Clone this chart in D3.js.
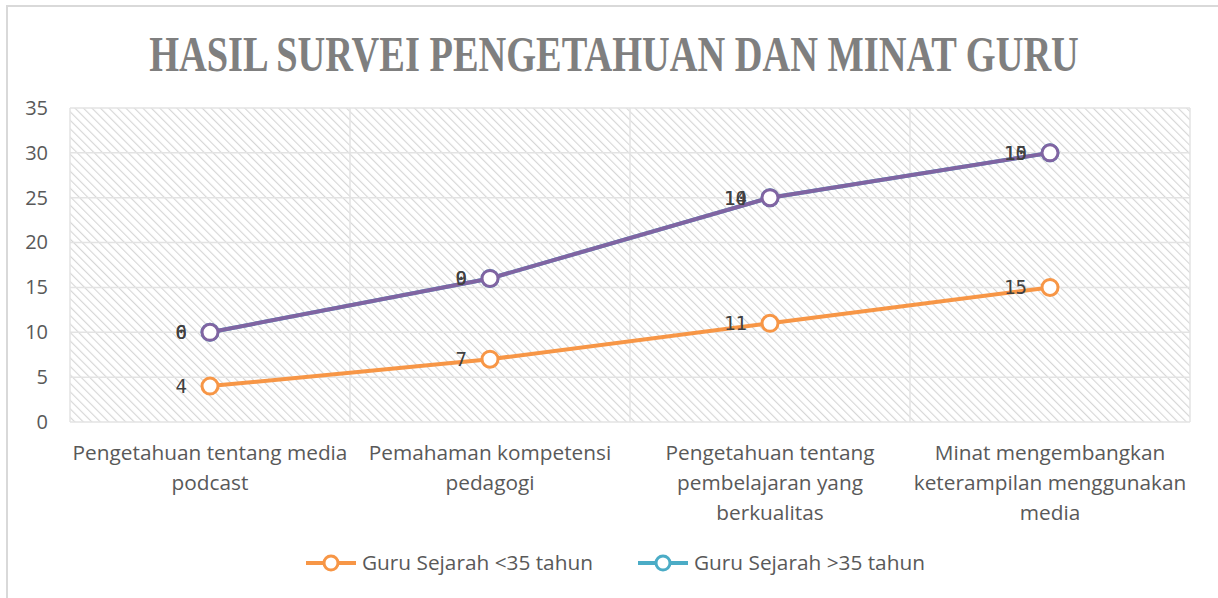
<!DOCTYPE html>
<html lang="id">
<head>
<meta charset="utf-8">
<title>Hasil Survei Pengetahuan dan Minat Guru</title>
<script src="https://d3js.org/d3.v7.min.js"></script>
<style>
  body { margin: 0; background: #fff; }
  svg { display: block; }
  .tick-lbl { font-family: "Open Sans", Lato, sans-serif; font-size: 20.8px; fill: #595959; }
  .axis-lbl { font-family: "Open Sans", Lato, sans-serif; font-size: 20px; fill: #595959; }
  .data-lbl { font-family: "DejaVu Sans Mono", monospace; font-size: 19px; fill: #404040; }
</style>
</head>
<body>
<svg id="chart" width="1218" height="598"></svg>
<script>
// data
const categories = [
  ["Pengetahuan tentang media", "podcast"],
  ["Pemahaman kompetensi", "pedagogi"],
  ["Pengetahuan tentang", "pembelajaran yang", "berkualitas"],
  ["Minat mengembangkan", "keterampilan menggunakan", "media"]
];
const under35 = [4, 7, 11, 15];
const over35 = [6, 9, 14, 15];
// third (unlisted) series, its labels overlap the >35 labels
const extraLabels = [0, 0, 10, 10];
const yTicks = [0, 5, 10, 15, 20, 25, 30, 35];
const seriesNames = ["Guru Sejarah <35 tahun", "Guru Sejarah >35 tahun"];

const orange = "#F79646", teal = "#4BACC6", purple = "#8064A2";

const svg = d3.select("#chart");

// outer chart border
svg.append("rect")
  .attr("x", 7).attr("y", 6).attr("width", 1240).attr("height", 620)
  .attr("fill", "none").attr("stroke", "#d9d9d9").attr("stroke-width", 2);

// hatch pattern
const defs = svg.append("defs");
const pat = defs.append("pattern")
  .attr("id", "hatch").attr("patternUnits", "userSpaceOnUse")
  .attr("width", 6).attr("height", 6)
  .attr("patternTransform", "rotate(-45)");
pat.append("rect").attr("width", 6).attr("height", 6).attr("fill", "#fff");
pat.append("line").attr("x1", 0).attr("y1", 0).attr("x2", 0).attr("y2", 6)
  .attr("stroke", "#d6d6d6").attr("stroke-width", 2.2);

const pLeft = 70, pRight = 1190, pTop = 108, pBottom = 422;

const x = d3.scaleBand().domain(d3.range(categories.length)).range([pLeft, pRight]);
const y = d3.scaleLinear().domain([0, 35]).range([pBottom, pTop]);
const cx = i => x(i) + x.bandwidth() / 2;

// plot background
svg.append("rect")
  .attr("x", pLeft).attr("y", pTop).attr("width", pRight - pLeft).attr("height", pBottom - pTop)
  .attr("fill", "url(#hatch)");

// grid lines
svg.selectAll(".hgrid").data(yTicks).enter().append("line")
  .attr("x1", pLeft).attr("x2", pRight)
  .attr("y1", d => y(d)).attr("y2", d => y(d))
  .attr("stroke", "#e3e3e3").attr("stroke-width", 1.5);
svg.selectAll(".vgrid").data(d3.range(categories.length + 1)).enter().append("line")
  .attr("x1", d => pLeft + d * x.bandwidth()).attr("x2", d => pLeft + d * x.bandwidth())
  .attr("y1", pTop).attr("y2", pBottom)
  .attr("stroke", "#e3e3e3").attr("stroke-width", 1.5);

// y axis labels
const yAxis = svg.append("g").attr("transform", `translate(${pLeft},0)`)
  .call(d3.axisLeft(y).tickValues(yTicks).tickSize(0).tickPadding(22));
yAxis.select(".domain").remove();
yAxis.selectAll("text").attr("class", "axis-lbl").attr("font-family", null).attr("font-size", null);

// x category labels
categories.forEach((lines, i) => {
  const t = svg.append("text").attr("class", "tick-lbl").attr("text-anchor", "middle");
  lines.forEach((ln, j) => {
    t.append("tspan").attr("x", cx(i)).attr("y", 460 + j * 30).text(ln);
  });
});

// title, squeezed horizontally to look condensed
const titleG = svg.append("g");
const title = titleG.append("text")
  .attr("x", 0).attr("y", 0).attr("text-anchor", "middle")
  .style("font-family", "'Liberation Serif', 'DejaVu Serif', serif")
  .style("font-weight", "bold").style("font-size", "50px").style("fill", "#7f7f7f")
  .text("HASIL SURVEI PENGETAHUAN DAN MINAT GURU");
const sx = 930 / title.node().getComputedTextLength();
titleG.attr("transform", `translate(614,71) scale(${sx},1)`);

// stacked values
const stacked = under35.map((v, i) => v + over35[i]);

const line = d3.line().x((d, i) => cx(i)).y(d => y(d));

function drawSeries(vals, color) {
  svg.append("path").datum(vals)
    .attr("d", line).attr("fill", "none")
    .attr("stroke", color).attr("stroke-width", 4).attr("stroke-linejoin", "round");
  svg.selectAll(null).data(vals).enter().append("circle")
    .attr("cx", (d, i) => cx(i)).attr("cy", d => y(d)).attr("r", 8)
    .attr("fill", "#fff").attr("stroke", color).attr("stroke-width", 3);
}

drawSeries(under35, orange);
drawSeries(stacked, teal);
drawSeries(stacked, purple);

function drawLabels(vals, labels) {
  svg.selectAll(null).data(vals).enter().append("text")
    .attr("class", "data-lbl").attr("text-anchor", "end")
    .attr("x", (d, i) => cx(i) - 23).attr("y", d => y(d) + 7)
    .text((d, i) => labels[i]);
}
drawLabels(under35, under35);
drawLabels(stacked, over35);
drawLabels(stacked, extraLabels);

// legend
const legend = [
  { name: seriesNames[0], color: orange, x: 306 },
  { name: seriesNames[1], color: teal, x: 638 }
];
legend.forEach(d => {
  const g = svg.append("g").attr("transform", `translate(${d.x},563)`);
  g.append("line").attr("x1", 0).attr("x2", 50).attr("y1", 0).attr("y2", 0)
    .attr("stroke", d.color).attr("stroke-width", 4);
  g.append("circle").attr("cx", 25).attr("cy", 0).attr("r", 7)
    .attr("fill", "#fff").attr("stroke", d.color).attr("stroke-width", 3);
  g.append("text").attr("class", "tick-lbl").attr("x", 56).attr("y", 7).text(d.name);
});
</script>
</body>
</html>
